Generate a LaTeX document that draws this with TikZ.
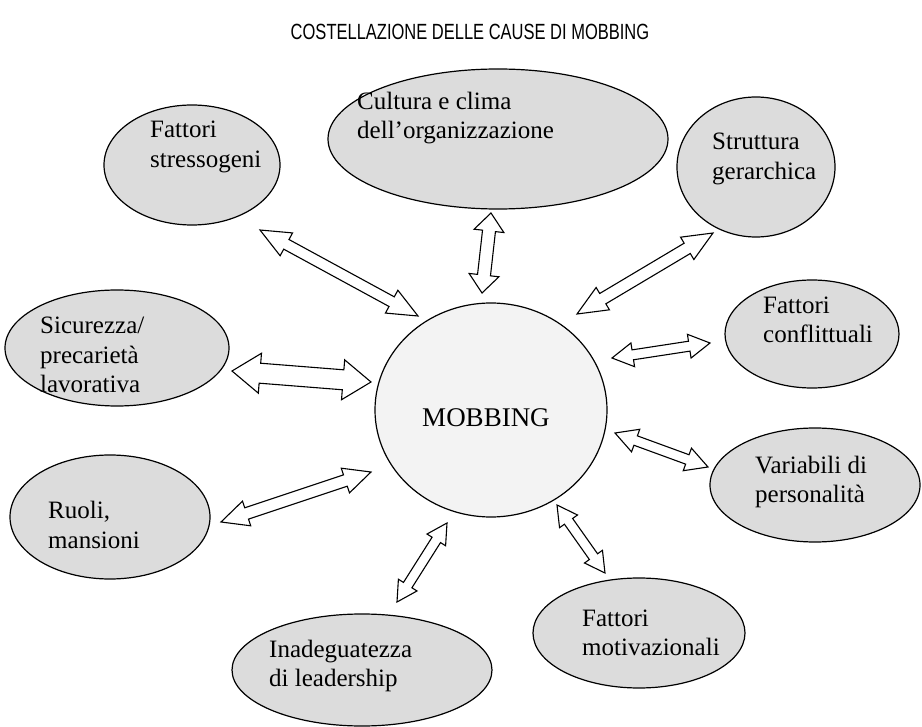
\documentclass[tikz,border=0pt]{standalone}
\usepackage{fontspec}
\setmainfont{Liberation Serif}
\newfontfamily\titlefont[FakeStretch=0.75]{Liberation Sans}
\usetikzlibrary{shapes.geometric,calc}
\definecolor{ellgray}{HTML}{DCDCDC}
\definecolor{circgray}{HTML}{F3F3F3}
\tikzset{
  cause/.style={ellipse, draw=black, line width=1.2pt, fill=ellgray, inner sep=0pt},
  core/.style={ellipse, draw=black, line width=1.2pt, fill=circgray, inner sep=0pt},
  lbl/.style={anchor=west, align=left, inner sep=0pt, font=\fontsize{25}{29.5}\selectfont},
  blockarrow/.style={draw=black, fill=white, line width=1.1pt, line join=miter},
}
\newcommand\bidir[5]{%
  \draw[blockarrow] (#1)
    -- ($(#1)!#3pt!(#2)!#4pt!90:(#2)$)
    -- ($(#1)!#3pt!(#2)!#5pt!90:(#2)$)
    -- ($(#2)!#3pt!(#1)!#5pt!-90:(#1)$)
    -- ($(#2)!#3pt!(#1)!#4pt!-90:(#1)$)
    -- (#2)
    -- ($(#2)!#3pt!(#1)!#4pt!90:(#1)$)
    -- ($(#2)!#3pt!(#1)!#5pt!90:(#1)$)
    -- ($(#1)!#3pt!(#2)!#5pt!-90:(#2)$)
    -- ($(#1)!#3pt!(#2)!#4pt!-90:(#2)$)
    -- cycle;}
\begin{document}
\begin{tikzpicture}[x=1pt,y=-1pt]
\useasboundingbox (0,0) rectangle (922,727);
% title
\node (title) at (470,32) {\titlefont\fontsize{22}{26}\selectfont COSTELLAZIONE DELLE CAUSE DI MOBBING};
% ellipses
\node[cause, minimum width=340pt, minimum height=140pt] (cult) at (498,139) {};
\node[cause, minimum width=176pt, minimum height=120pt] (stress) at (192,165) {};
\node[cause, minimum width=158pt, minimum height=140pt] (strutt) at (756,167) {};
\node[cause, minimum width=224pt, minimum height=116pt] (sicur) at (117,348) {};
\node[cause, minimum width=174pt, minimum height=108pt] (confl) at (812,334) {};
\node[core, minimum width=232pt, minimum height=214pt] (mob) at (491,410) {};
\node[cause, minimum width=210pt, minimum height=114pt] (var) at (815,485) {};
\node[cause, minimum width=200pt, minimum height=124pt] (ruoli) at (110,517) {};
\node[cause, minimum width=212pt, minimum height=110pt] (motiv) at (639,633) {};
\node[cause, minimum width=260pt, minimum height=112pt] (inad) at (362,670) {};
% labels
\node[lbl] (cultt) at (357,118) {Cultura e clima\\dell’organizzazione};
\node[lbl] (stresst) at (150,147) {Fattori\\stressogeni};
\node[lbl] (struttt) at (712,159) {Struttura\\gerarchica};
\node[lbl] (sicurt) at (40,355) {Sicurezza/\\precarietà\\lavorativa};
\node[lbl] (conflt) at (763,320) {Fattori\\conflittuali};
\node[anchor=center, inner sep=0pt, font=\fontsize{27}{32}\selectfont] (mobt) at (486,418) {MOBBING};
\node[lbl] (vart) at (755,482) {Variabili di\\personalità};
\node[lbl] (ruolit) at (48,525) {Ruoli,\\mansioni};
\node[lbl] (motivt) at (582,633) {Fattori\\motivazionali};
\node[lbl] (inadt) at (269,666) {Inadeguatezza\\di leadership};
% arrow ends
\coordinate (a1s) at (260,230); \coordinate (a1m) at (418,316);
\coordinate (a2s) at (491,213); \coordinate (a2m) at (482,293);
\coordinate (a3s) at (713,233); \coordinate (a3m) at (577,314);
\coordinate (a4s) at (232,371); \coordinate (a4m) at (371,382);
\coordinate (a5m) at (612,358); \coordinate (a5s) at (710,343);
\coordinate (a6m) at (615,433); \coordinate (a6s) at (708,467);
\coordinate (a7s) at (221,522); \coordinate (a7m) at (371,472);
\coordinate (a8m) at (447,523); \coordinate (a8s) at (397,602);
\coordinate (a9m) at (557,505); \coordinate (a9s) at (605,573);
% arrows
\bidir{a1s}{a1m}{30}{13}{5.5}
\bidir{a2s}{a2m}{18}{15}{6.5}
\bidir{a3s}{a3m}{30}{13}{6}
\bidir{a4s}{a4m}{28}{20}{10}
\bidir{a5m}{a5s}{21}{12}{5}
\bidir{a6m}{a6s}{22}{12}{5}
\bidir{a7s}{a7m}{27}{13}{6}
\bidir{a8m}{a8s}{20}{11}{5}
\bidir{a9m}{a9s}{20}{11}{5}
\end{tikzpicture}
\end{document}
